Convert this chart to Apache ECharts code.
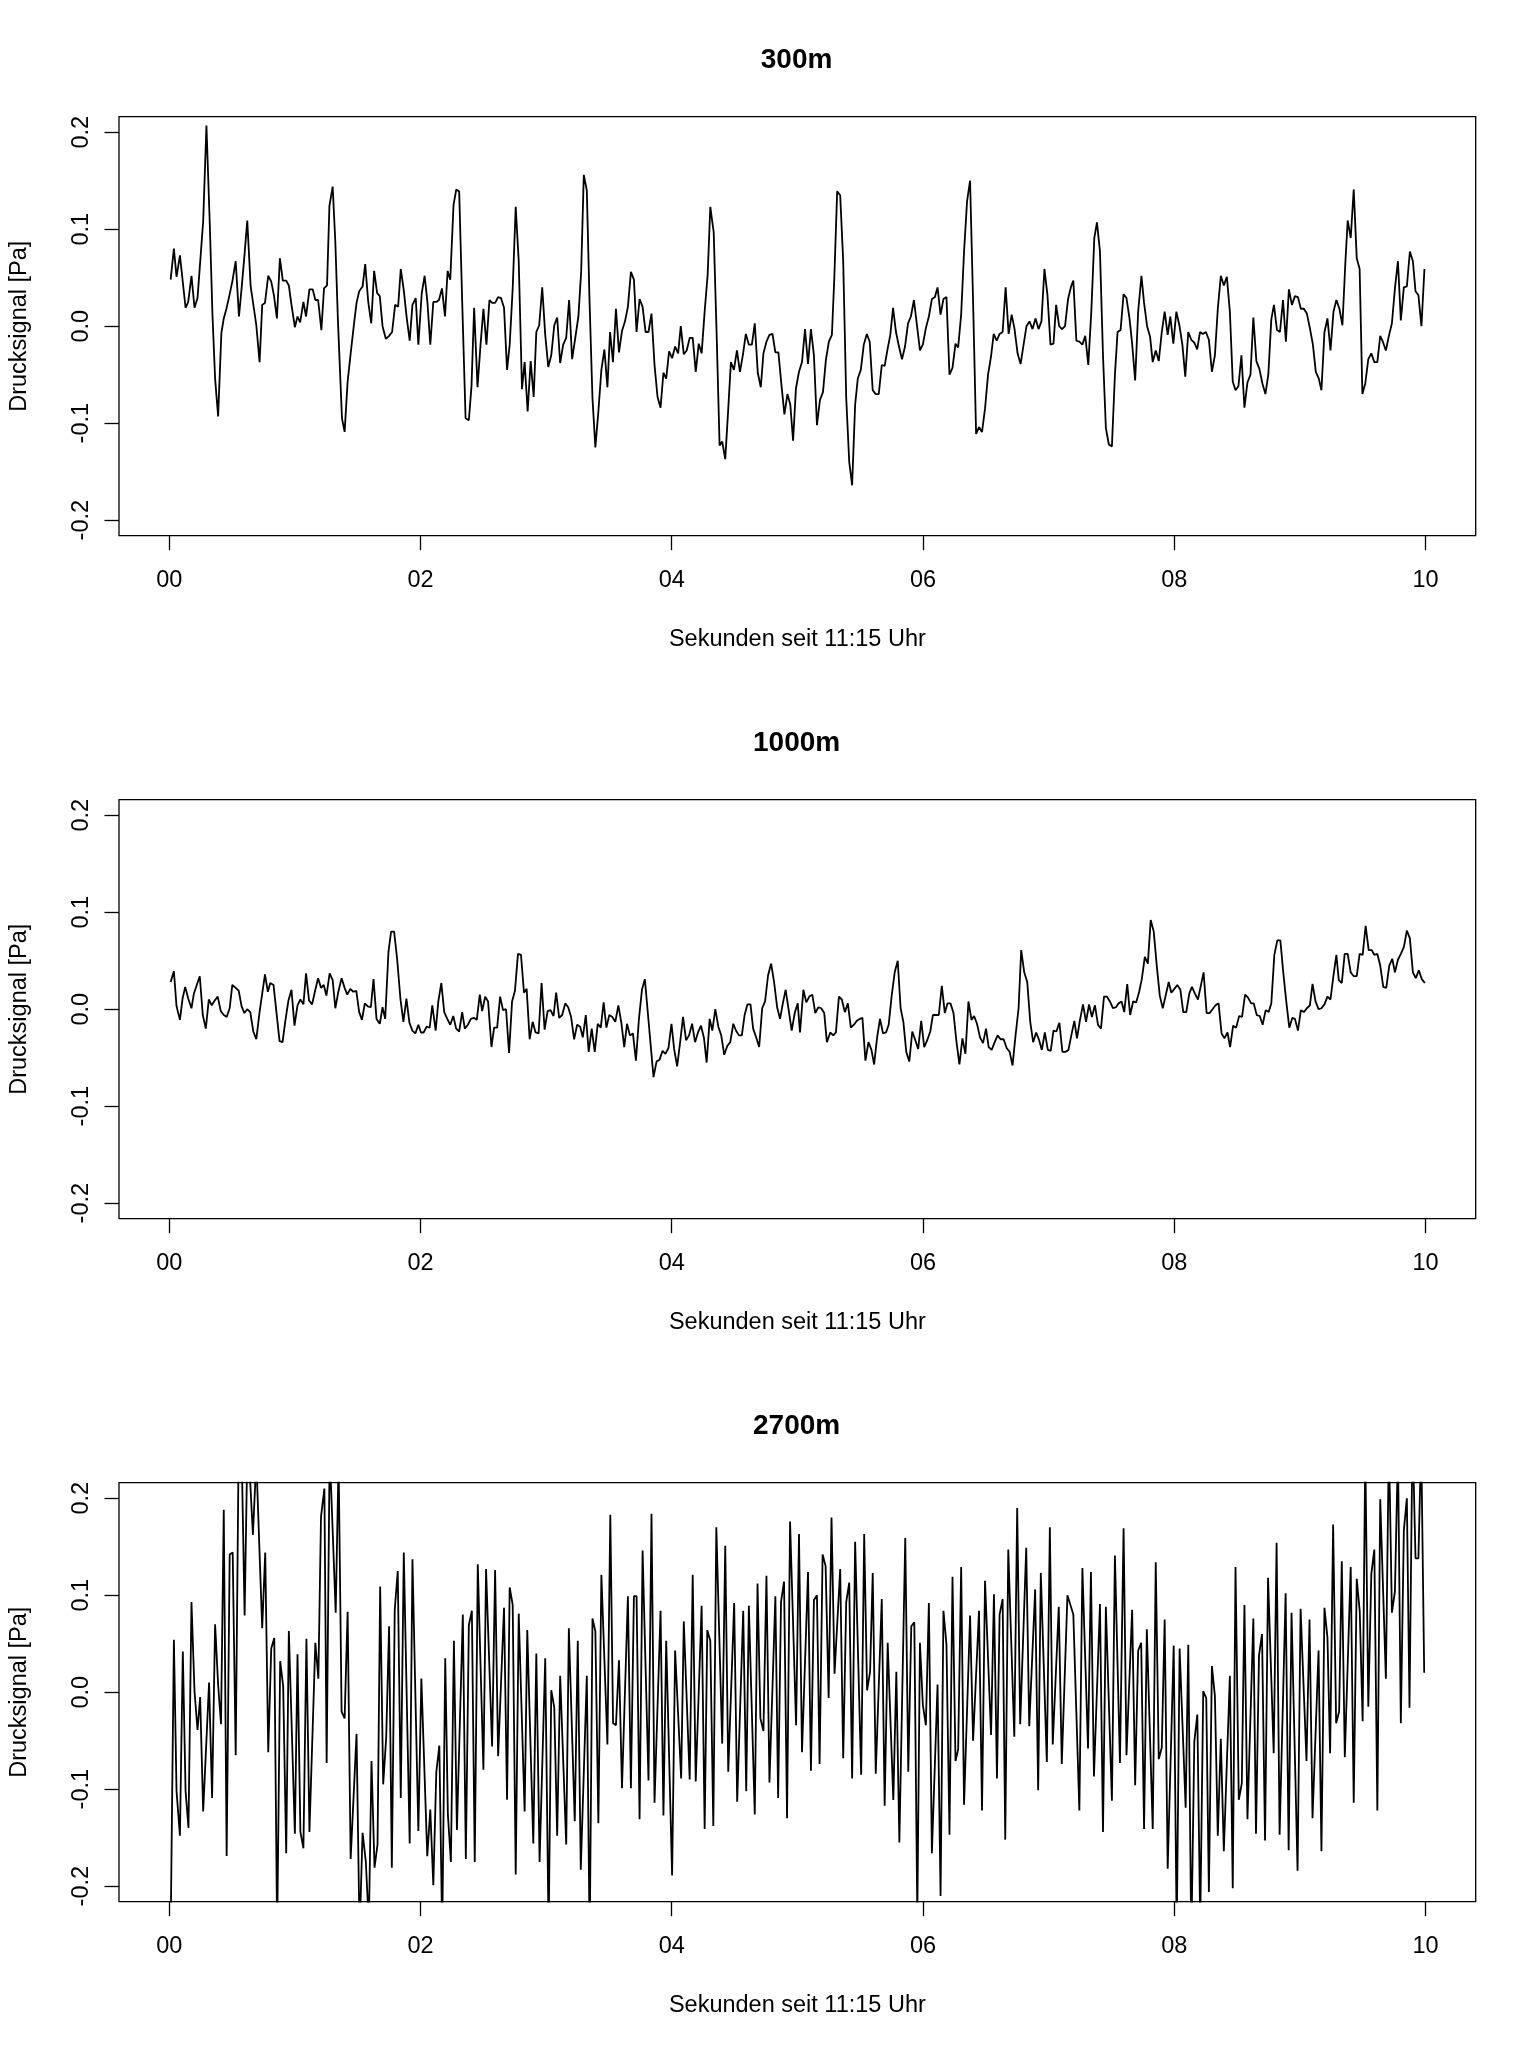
<!DOCTYPE html>
<html>
<head>
<meta charset="utf-8">
<script src="https://cdn.jsdelivr.net/npm/echarts@6.0.0/dist/echarts.min.js"></script>
<style>
html,body{margin:0;padding:0;background:#fff;}
#chart{width:1536px;height:2048px;}
</style>
</head>
<body>
<div id="chart"></div>
<script>
const panelTitles = ['300m', '1000m', '2700m'];
const xAxisTitle = 'Sekunden seit 11:15 Uhr';
const yAxisTitle = 'Drucksignal [Pa]';
const xTicks = [0, 2, 4, 6, 8, 10];
const xTickLabels = ['00', '02', '04', '06', '08', '10'];
const yTicks = [-0.2, -0.1, 0, 0.1, 0.2];
const yTickLabels = ['-0.2', '-0.1', '0.0', '0.1', '0.2'];

// [seconds, pressure signal in Pa]
const signal300 = [
[0.011,0.048],[0.037,0.080],[0.058,0.051],[0.085,0.073],[0.130,0.019],[0.151,0.025],[0.177,0.052],[0.201,0.019],[0.225,0.029],[0.270,0.108],
[0.296,0.207],[0.323,0.104],[0.344,0.012],[0.365,-0.054],[0.389,-0.093],[0.415,-0.007],[0.434,0.008],[0.455,0.018],[0.476,0.030],[0.502,0.046],
[0.529,0.067],[0.555,0.010],[0.576,0.039],[0.600,0.075],[0.621,0.109],[0.648,0.041],[0.674,0.018],[0.693,0.001],[0.719,-0.037],[0.740,0.022],
[0.762,0.024],[0.788,0.052],[0.812,0.046],[0.833,0.032],[0.857,0.008],[0.881,0.070],[0.904,0.047],[0.931,0.047],[0.952,0.042],[0.973,0.022],
[1.000,-0.001],[1.021,0.010],[1.042,0.004],[1.068,0.025],[1.089,0.010],[1.116,0.038],[1.142,0.038],[1.163,0.027],[1.185,0.027],[1.211,-0.004],
[1.232,0.039],[1.256,0.042],[1.275,0.124],[1.301,0.144],[1.322,0.087],[1.343,0.005],[1.375,-0.095],[1.396,-0.109],[1.420,-0.057],[1.446,-0.026],
[1.473,0.005],[1.491,0.024],[1.512,0.036],[1.539,0.041],[1.560,0.064],[1.584,0.025],[1.608,0.003],[1.631,0.057],[1.655,0.034],[1.676,0.031],
[1.698,0.000],[1.724,-0.013],[1.750,-0.010],[1.774,-0.006],[1.798,0.022],[1.822,0.020],[1.843,0.059],[1.867,0.037],[1.891,0.008],[1.914,-0.015],
[1.936,0.022],[1.962,0.029],[1.983,-0.019],[2.010,0.034],[2.033,0.052],[2.055,0.025],[2.078,-0.019],[2.102,0.025],[2.126,0.025],[2.147,0.027],
[2.171,0.039],[2.195,0.010],[2.216,0.057],[2.237,0.048],[2.263,0.125],[2.285,0.141],[2.308,0.139],[2.332,0.025],[2.359,-0.095],[2.385,-0.097],
[2.406,-0.062],[2.427,0.019],[2.454,-0.063],
[2.478,-0.019],[2.501,0.018],[2.525,-0.019],[2.549,0.027],[2.570,0.024],[2.594,0.024],[2.618,0.030],[2.641,0.029],[2.665,0.019],[2.689,-0.045],
[2.710,-0.019],[2.734,0.039],[2.758,0.123],[2.782,0.067],[2.808,-0.065],[2.829,-0.037],[2.853,-0.088],[2.877,-0.036],[2.901,-0.073],[2.922,-0.006],
[2.945,0.001],[2.969,0.040],[2.993,-0.009],[3.017,-0.042],[3.041,-0.030],[3.065,0.001],[3.088,0.009],[3.112,-0.038],[3.136,-0.019],[3.160,-0.012],
[3.183,0.027],[3.207,-0.034],[3.231,-0.013],[3.257,0.010],[3.279,0.056],[3.300,0.156],[3.324,0.140],[3.345,0.029],[3.369,-0.074],[3.392,-0.125],
[3.416,-0.088],[3.440,-0.045],[3.464,-0.024],[3.488,-0.063],[3.509,-0.006],[3.532,-0.037],[3.556,0.018],[3.580,-0.027],[3.604,-0.005],[3.628,0.005],
[3.651,0.020],[3.675,0.056],[3.699,0.048],[3.720,-0.006],[3.744,0.028],[3.768,0.020],[3.792,-0.006],[3.815,-0.006],[3.839,0.013],[3.863,-0.040],
[3.887,-0.073],[3.911,-0.084],[3.934,-0.048],[3.956,-0.054],[3.979,-0.026],[4.003,-0.033],[4.027,-0.021],[4.051,-0.028],[4.072,0.000],[4.096,-0.029],
[4.119,-0.025],[4.143,-0.012],[4.167,-0.012],[4.191,-0.047],[4.215,-0.018],[4.238,-0.028],[4.262,0.015],[4.286,0.053],[4.307,0.123],[4.334,0.097],
[4.357,-0.006],[4.381,-0.123],[4.402,-0.119],[4.426,-0.137],[4.450,-0.085],[4.471,-0.037],[4.495,-0.045],[4.519,-0.025],[4.543,-0.047],[4.566,-0.030],
[4.590,-0.008],[4.614,-0.019],[4.638,-0.019],[4.661,0.003],[4.685,-0.048],[4.709,-0.063],[4.730,-0.028],[4.754,-0.016],[4.778,-0.009],[4.802,-0.008],
[4.825,-0.027],[4.849,-0.027],[4.873,-0.060],[4.897,-0.091],[4.921,-0.070],[4.944,-0.081],[4.966,-0.118],[4.989,-0.064],
[5.013,-0.047],[5.037,-0.037],[5.061,-0.003],[5.085,-0.039],[5.108,-0.003],[5.132,-0.030],[5.156,-0.102],[5.180,-0.076],[5.204,-0.068],[5.227,-0.035],
[5.251,-0.016],[5.275,-0.009],[5.294,0.049],[5.317,0.139],[5.341,0.135],[5.365,0.067],[5.389,-0.074],[5.413,-0.140],[5.436,-0.164],[5.460,-0.081],
[5.481,-0.054],[5.505,-0.045],[5.529,-0.019],[5.553,-0.008],[5.576,-0.016],[5.600,-0.066],[5.624,-0.070],[5.648,-0.070],[5.672,-0.040],[5.695,-0.041],
[5.719,-0.023],[5.740,-0.009],[5.762,0.019],[5.785,-0.006],[5.809,-0.021],[5.833,-0.034],[5.857,-0.021],[5.881,0.003],[5.904,0.010],[5.928,0.027],
[5.952,0.001],[5.976,-0.025],[5.999,-0.019],[6.023,-0.002],[6.047,0.010],[6.071,0.028],[6.095,0.030],[6.116,0.040],[6.140,0.012],[6.163,0.028],
[6.187,0.030],[6.211,-0.050],[6.235,-0.043],[6.259,-0.018],[6.280,-0.022],[6.304,0.012],[6.327,0.077],[6.351,0.129],[6.375,0.150],[6.399,0.025],
[6.423,-0.111],[6.446,-0.104],[6.470,-0.109],[6.494,-0.085],[6.518,-0.050],[6.542,-0.031],[6.563,-0.008],[6.587,-0.015],[6.610,-0.008],[6.634,-0.006],
[6.658,0.040],[6.682,-0.008],[6.706,0.012],[6.729,-0.003],[6.753,-0.028],[6.777,-0.039],[6.801,-0.019],[6.824,0.000],[6.848,0.005],[6.872,-0.003],
[6.896,0.008],[6.920,-0.003],[6.943,0.005],[6.967,0.059],[6.991,0.032],[7.015,-0.019],[7.039,-0.018],[7.060,0.022],[7.084,0.000],[7.107,-0.003],
[7.131,0.000],[7.155,0.028],[7.179,0.041],[7.197,0.047],[7.221,-0.015],[7.245,-0.016],[7.269,-0.019],[7.292,-0.010],[7.316,-0.040],[7.340,0.015],
[7.364,0.091],[7.385,0.107],[7.409,0.077],[7.433,-0.030],[7.456,-0.105],[7.480,-0.122],[7.504,-0.124],
[7.528,-0.050],[7.549,-0.006],[7.573,-0.004],[7.597,0.033],[7.620,0.029],[7.644,0.008],[7.665,-0.018],[7.689,-0.056],[7.713,0.015],[7.739,0.052],
[7.760,0.024],[7.784,0.000],[7.808,-0.011],[7.829,-0.037],[7.853,-0.025],[7.877,-0.036],[7.901,-0.006],[7.924,0.015],[7.948,-0.009],[7.969,0.010],
[7.993,-0.018],[8.017,0.015],[8.041,0.001],[8.065,-0.019],[8.088,-0.052],[8.112,-0.006],[8.136,-0.014],[8.160,-0.017],[8.183,-0.024],[8.205,-0.006],
[8.228,-0.008],[8.252,-0.006],[8.276,-0.014],[8.300,-0.047],[8.324,-0.030],[8.347,0.018],[8.371,0.052],[8.395,0.042],[8.419,0.051],[8.443,0.015],
[8.466,-0.057],[8.488,-0.066],[8.511,-0.062],[8.535,-0.030],[8.559,-0.084],[8.583,-0.058],[8.607,-0.050],[8.630,0.009],[8.654,-0.036],[8.678,-0.044],
[8.702,-0.059],[8.726,-0.070],[8.749,-0.050],[8.773,0.007],[8.794,0.022],[8.818,-0.004],[8.842,-0.006],[8.866,0.027],[8.889,-0.016],[8.913,0.038],
[8.937,0.022],[8.961,0.031],[8.985,0.030],[9.008,0.018],[9.032,0.018],[9.056,0.013],[9.080,-0.002],[9.104,-0.019],[9.127,-0.047],[9.151,-0.054],
[9.172,-0.066],[9.196,-0.006],[9.220,0.008],[9.244,-0.025],[9.268,0.015],[9.291,0.027],[9.315,0.018],[9.339,0.001],[9.363,0.067],[9.381,0.109],
[9.405,0.091],[9.429,0.141],[9.453,0.070],[9.476,0.059],[9.498,-0.070],[9.521,-0.059],[9.545,-0.034],[9.569,-0.028],[9.593,-0.037],[9.617,-0.037],
[9.640,-0.010],[9.661,-0.016],[9.685,-0.025],[9.709,-0.010],[9.733,0.003],[9.757,0.039],[9.781,0.067],[9.804,0.006],[9.828,0.040],[9.852,0.041],
[9.876,0.077],[9.900,0.067],[9.921,0.036],[9.944,0.032],[9.968,0.000],[9.992,0.059]
];

const signal1000 = [
[0.011,0.028],[0.037,0.039],[0.058,0.003],[0.085,-0.011],[0.106,0.011],[0.127,0.023],[0.151,0.011],[0.177,0.001],[0.196,0.016],[0.219,0.025],
[0.243,0.034],[0.267,-0.006],[0.291,-0.020],[0.315,0.010],[0.338,0.004],[0.362,0.009],[0.386,0.013],[0.410,-0.002],[0.434,-0.006],[0.457,-0.008],
[0.481,0.001],[0.502,0.025],[0.529,0.022],[0.553,0.019],[0.576,0.003],[0.598,-0.004],[0.621,0.000],[0.645,-0.003],[0.669,-0.023],[0.693,-0.031],
[0.719,-0.003],[0.740,0.016],[0.762,0.036],[0.785,0.018],[0.804,0.027],[0.830,0.025],[0.854,-0.004],[0.878,-0.033],[0.902,-0.034],[0.923,-0.013],
[0.949,0.009],[0.973,0.020],[0.997,-0.017],[1.021,0.004],[1.044,0.010],[1.068,0.005],[1.089,0.037],[1.113,0.009],[1.137,0.005],[1.161,0.019],
[1.185,0.032],[1.208,0.022],[1.230,0.025],[1.251,0.014],[1.277,0.037],[1.301,0.030],[1.322,0.001],[1.346,0.018],[1.372,0.032],[1.396,0.022],
[1.417,0.015],[1.441,0.021],[1.465,0.018],[1.489,0.019],[1.512,-0.003],[1.534,-0.011],[1.557,0.006],[1.581,0.003],[1.605,0.002],[1.626,0.031],
[1.650,-0.010],[1.676,-0.015],[1.698,0.002],[1.719,-0.010],[1.745,0.059],[1.766,0.080],[1.790,0.080],[1.814,0.052],[1.840,0.011],[1.864,-0.013],
[1.888,0.011],[1.912,-0.014],[1.935,-0.022],[1.959,-0.025],[1.983,-0.016],[2.004,-0.024],[2.025,-0.024],[2.049,-0.018],[2.073,-0.019],[2.094,0.004],
[2.121,-0.022],[2.142,0.008],[2.166,0.027],[2.189,-0.003],[2.213,-0.010],[2.237,-0.016],[2.261,-0.007],[2.284,-0.020],[2.308,-0.023],[2.332,-0.003],
[2.353,-0.020],[2.377,-0.016],[2.401,-0.010],[2.427,-0.009],[2.448,-0.011],[2.472,0.015],
[2.491,-0.002],[2.515,0.013],[2.538,0.008],[2.565,-0.039],[2.586,-0.019],[2.610,-0.019],[2.634,0.013],[2.657,-0.001],[2.681,0.000],[2.705,-0.045],
[2.729,0.008],[2.752,0.019],[2.776,0.057],[2.800,0.056],[2.824,0.017],[2.845,0.021],[2.869,-0.031],[2.893,-0.013],[2.916,-0.024],[2.940,-0.025],
[2.964,0.027],[2.988,-0.021],[3.012,-0.002],[3.035,-0.001],[3.059,-0.007],[3.080,0.017],[3.104,-0.009],[3.128,-0.006],[3.152,0.006],[3.176,0.002],
[3.199,-0.008],[3.223,-0.031],[3.247,-0.016],[3.271,-0.018],[3.292,-0.029],[3.316,-0.006],[3.339,-0.044],[3.363,-0.020],[3.387,-0.044],[3.411,-0.015],
[3.435,-0.019],[3.458,0.007],[3.480,-0.019],[3.503,-0.006],[3.527,-0.008],[3.551,-0.013],[3.575,0.004],[3.599,-0.014],[3.622,-0.039],[3.644,-0.015],
[3.667,-0.027],[3.691,-0.025],[3.715,-0.053],[3.739,-0.010],[3.763,0.020],[3.786,0.031],[3.810,-0.004],[3.831,-0.035],[3.855,-0.070],[3.879,-0.054],
[3.903,-0.052],[3.927,-0.043],[3.950,-0.046],[3.974,-0.040],[3.998,-0.015],[4.019,-0.041],[4.043,-0.059],[4.067,-0.034],[4.090,-0.008],[4.114,-0.032],
[4.138,-0.027],[4.162,-0.015],[4.186,-0.034],[4.209,-0.024],[4.233,-0.017],[4.257,-0.030],[4.278,-0.055],[4.302,-0.010],[4.323,-0.022],[4.347,0.000],
[4.371,-0.018],[4.394,-0.027],[4.418,-0.047],[4.442,-0.038],[4.466,-0.034],[4.490,-0.015],[4.511,-0.022],[4.535,-0.027],[4.558,-0.027],[4.580,-0.006],
[4.603,0.005],[4.627,0.005],[4.648,-0.020],[4.672,-0.029],[4.696,-0.039],[4.720,0.001],[4.743,0.008],[4.767,0.035],[4.791,0.047],[4.815,0.028],
[4.839,0.002],[4.862,-0.010],[4.886,0.007],[4.907,0.020],[4.931,-0.001],[4.955,-0.022],[4.979,-0.004],[5.003,0.006],
[5.021,-0.024],[5.048,0.020],[5.071,0.007],[5.095,0.013],[5.119,0.015],[5.143,-0.004],[5.167,0.002],[5.190,0.001],[5.214,-0.004],[5.235,-0.034],
[5.262,-0.024],[5.286,-0.027],[5.307,-0.024],[5.331,0.013],[5.354,0.010],[5.378,-0.003],[5.402,0.006],[5.426,-0.019],[5.450,-0.016],[5.473,-0.012],
[5.497,-0.010],[5.518,-0.009],[5.542,-0.053],[5.566,-0.034],[5.590,-0.042],[5.611,-0.057],[5.635,-0.029],[5.658,-0.010],[5.682,-0.025],[5.706,-0.024],
[5.727,-0.016],[5.751,0.014],[5.775,0.038],[5.799,0.050],[5.822,0.001],[5.844,-0.013],[5.867,-0.044],[5.891,-0.054],[5.915,-0.023],[5.939,-0.032],
[5.962,-0.041],[5.986,-0.012],[6.010,-0.039],[6.034,-0.032],[6.058,-0.023],[6.079,-0.006],[6.103,-0.006],[6.126,-0.006],[6.150,0.024],[6.174,-0.004],
[6.195,0.006],[6.219,0.006],[6.243,-0.004],[6.267,-0.034],[6.290,-0.057],[6.314,-0.030],[6.338,-0.046],[6.362,0.008],[6.386,-0.011],[6.407,-0.007],
[6.430,-0.015],[6.454,-0.029],[6.478,-0.035],[6.502,-0.020],[6.523,-0.039],[6.547,-0.042],[6.571,-0.034],[6.594,-0.027],[6.618,-0.031],[6.642,-0.031],
[6.666,-0.040],[6.690,-0.044],[6.713,-0.058],[6.737,-0.027],[6.761,0.001],[6.782,0.061],[6.806,0.038],[6.830,0.028],[6.854,-0.013],[6.877,-0.034],
[6.901,-0.024],[6.925,-0.032],[6.946,-0.042],[6.970,-0.024],[6.994,-0.042],[7.017,-0.043],[7.039,-0.022],[7.062,-0.023],[7.086,-0.014],[7.110,-0.044],
[7.134,-0.044],[7.158,-0.042],[7.181,-0.027],[7.205,-0.012],[7.226,-0.030],[7.250,-0.011],[7.274,0.005],[7.298,-0.013],[7.322,0.005],[7.345,-0.008],
[7.369,0.004],[7.393,-0.016],[7.417,-0.020],[7.441,0.013],[7.464,0.013],[7.488,0.008],[7.512,0.001],[7.536,0.002],
[7.557,0.006],[7.581,0.008],[7.602,-0.003],[7.626,0.026],[7.649,-0.006],[7.673,0.008],[7.697,0.007],[7.721,0.018],[7.742,0.031],[7.766,0.054],
[7.790,0.047],[7.813,0.092],[7.837,0.080],[7.861,0.045],[7.885,0.014],[7.909,0.001],[7.932,0.014],[7.956,0.028],[7.977,0.017],[8.001,0.021],
[8.025,0.025],[8.049,0.020],[8.072,-0.003],[8.096,-0.003],[8.120,0.016],[8.141,0.023],[8.165,0.016],[8.189,0.010],[8.234,0.038],[8.258,-0.004],
[8.281,-0.004],[8.305,0.000],[8.329,0.004],[8.353,0.006],[8.377,-0.025],[8.400,-0.030],[8.424,-0.024],[8.445,-0.039],[8.469,-0.017],[8.493,-0.019],
[8.517,-0.007],[8.540,-0.008],[8.564,0.015],[8.588,0.012],[8.612,0.006],[8.633,0.006],[8.657,-0.006],[8.681,-0.007],[8.704,-0.016],[8.728,-0.001],
[8.752,-0.003],[8.773,0.006],[8.797,0.056],[8.821,0.071],[8.845,0.071],[8.868,0.038],[8.892,0.008],[8.916,-0.019],[8.940,-0.009],[8.961,-0.010],
[8.985,-0.022],[9.008,-0.001],[9.032,-0.003],[9.056,0.001],[9.080,0.004],[9.101,0.026],[9.125,0.008],[9.149,0.000],[9.172,0.001],[9.196,0.005],
[9.220,0.013],[9.244,0.010],[9.268,0.035],[9.291,0.056],[9.310,0.030],[9.334,0.027],[9.357,0.057],[9.381,0.057],[9.405,0.038],[9.429,0.034],
[9.453,0.034],[9.476,0.057],[9.500,0.056],[9.524,0.086],[9.548,0.061],[9.572,0.061],[9.593,0.056],[9.617,0.057],[9.640,0.045],[9.664,0.023],
[9.688,0.022],[9.712,0.045],[9.736,0.052],[9.757,0.038],[9.781,0.051],[9.804,0.057],[9.828,0.064],[9.852,0.081],[9.876,0.073],[9.900,0.038],
[9.923,0.032],[9.947,0.040],[9.971,0.031],[9.995,0.027]
];

const signal2700 = [
[0.011,-0.250],[0.037,0.054],[0.058,-0.102],[0.085,-0.148],[0.108,0.042],[0.130,-0.102],[0.153,-0.140],[0.177,0.093],[0.201,0.001],[0.225,-0.039],
[0.246,-0.005],[0.270,-0.123],[0.317,0.010],[0.341,-0.109],[0.365,0.070],[0.389,0.008],[0.412,-0.033],[0.434,0.188],[0.457,-0.169],[0.481,0.142],
[0.505,0.144],[0.529,-0.065],[0.553,0.260],[0.576,0.250],[0.600,0.079],[0.624,0.270],[0.666,0.162],[0.693,0.240],[0.740,0.066],[0.764,0.144],
[0.788,-0.062],[0.812,0.045],[0.836,0.056],[0.859,-0.250],[0.883,0.032],[0.907,0.006],[0.931,-0.166],[0.952,0.063],[0.976,-0.041],[1.000,-0.146],
[1.021,0.039],[1.044,-0.144],[1.068,-0.161],[1.092,0.055],[1.116,-0.144],[1.163,0.051],[1.187,0.014],[1.208,0.181],[1.235,0.210],[1.253,-0.073],
[1.277,0.250],[1.325,0.082],[1.348,0.240],[1.372,-0.020],[1.396,-0.027],[1.420,0.083],[1.444,-0.172],[1.491,-0.043],[1.515,-0.250],[1.539,-0.145],
[1.565,-0.175],[1.589,-0.240],[1.610,-0.071],[1.634,-0.181],[1.658,-0.157],[1.679,0.109],[1.703,-0.095],[1.727,-0.047],[1.750,0.068],[1.772,-0.181],
[1.795,0.085],[1.819,0.125],[1.843,-0.109],[1.867,0.144],[1.914,-0.156],[1.936,0.137],[1.983,-0.143],[2.007,0.014],[2.054,-0.169],[2.078,-0.121],
[2.102,-0.199],[2.126,-0.082],[2.150,-0.055],[2.173,-0.250],[2.197,0.035],[2.218,-0.126],[2.242,-0.175],[2.266,0.053],[2.290,-0.142],[2.337,0.080],
[2.361,-0.172],[2.385,0.069],[2.409,0.084],[2.432,-0.175],[2.456,0.132],
[2.501,-0.080],[2.522,0.127],[2.570,-0.056],[2.594,0.126],[2.618,-0.066],[2.665,0.087],[2.689,-0.111],[2.710,0.108],[2.734,0.090],[2.758,-0.188],
[2.782,0.081],[2.829,-0.123],[2.850,0.064],[2.898,-0.156],[2.922,0.040],[2.948,-0.175],[2.993,0.035],[3.020,-0.250],[3.041,0.002],[3.065,-0.016],
[3.088,-0.148],[3.112,0.017],[3.160,-0.157],[3.181,0.066],[3.228,-0.133],[3.252,0.053],[3.276,-0.183],[3.324,0.017],[3.347,-0.260],[3.369,0.076],
[3.392,0.063],[3.416,-0.135],[3.440,0.121],[3.488,-0.054],[3.511,0.183],[3.533,-0.032],[3.556,-0.034],[3.580,0.033],[3.604,-0.099],[3.651,0.099],
[3.675,-0.099],[3.699,0.099],[3.720,0.099],[3.744,-0.131],[3.768,0.146],[3.815,-0.091],[3.839,0.184],[3.863,-0.114],[3.911,0.084],[3.934,-0.127],
[3.956,0.053],[4.003,-0.189],[4.027,0.043],[4.075,-0.089],[4.096,0.073],[4.143,-0.090],[4.167,0.121],[4.191,-0.092],[4.238,0.089],[4.262,-0.141],
[4.283,0.064],[4.307,0.053],[4.331,-0.138],[4.355,0.170],[4.402,-0.053],[4.426,0.151],[4.450,-0.082],[4.497,0.092],[4.521,-0.113],[4.569,0.084],
[4.593,-0.102],[4.614,0.089],[4.661,-0.126],[4.683,0.112],[4.706,-0.027],[4.730,-0.040],[4.754,0.120],[4.778,-0.093],[4.825,0.099],[4.847,-0.109],
[4.870,0.093],[4.894,0.114],[4.918,-0.130],[4.942,0.176],
[4.990,-0.034],[5.013,0.163],[5.037,-0.062],[5.085,0.124],[5.108,-0.081],[5.132,0.095],[5.156,0.100],[5.177,-0.074],[5.201,0.142],[5.225,0.130],
[5.249,-0.006],[5.272,0.180],[5.296,0.019],[5.341,0.127],[5.365,-0.068],[5.389,0.093],[5.413,0.113],[5.436,-0.089],[5.460,0.155],[5.508,-0.085],
[5.532,0.163],[5.555,0.002],[5.579,0.021],[5.600,0.123],[5.624,-0.084],[5.672,0.096],[5.695,-0.117],[5.719,0.051],[5.764,-0.111],[5.788,0.021],
[5.812,-0.155],[5.859,0.159],[5.883,-0.082],[5.907,0.068],[5.931,0.072],[5.955,-0.230],[5.976,0.051],[5.999,-0.013],[6.023,-0.034],[6.047,0.092],
[6.071,-0.166],[6.116,0.008],[6.140,-0.210],[6.163,0.084],[6.187,0.049],[6.211,-0.147],[6.235,0.119],[6.259,-0.071],[6.280,-0.059],[6.304,0.129],
[6.327,-0.116],[6.375,0.079],[6.399,-0.050],[6.446,0.084],[6.470,-0.122],[6.494,0.115],[6.542,-0.044],[6.565,0.101],[6.589,-0.089],[6.610,0.080],
[6.634,0.096],[6.655,-0.152],[6.679,0.147],[6.727,-0.046],[6.750,0.190],[6.774,-0.033],[6.822,0.149],[6.846,-0.035],[6.893,0.106],[6.917,-0.101],
[6.938,0.123],[6.986,-0.072],[7.010,0.170],[7.033,-0.054],[7.081,0.088],[7.105,-0.074],[7.150,0.100],[7.197,0.080],[7.245,-0.122],[7.269,0.128],
[7.314,-0.058],[7.337,0.124],[7.361,-0.087],[7.409,0.091],[7.433,-0.144],[7.456,0.088],[7.504,-0.112],[7.528,0.141],[7.568,-0.073],
[7.597,0.169],[7.620,-0.065],[7.665,0.085],[7.689,-0.096],[7.713,0.043],[7.737,0.051],[7.760,-0.141],[7.782,0.065],[7.829,-0.141],[7.853,0.134],
[7.877,-0.069],[7.901,-0.057],[7.924,0.075],[7.948,-0.182],[7.996,0.048],[8.020,-0.250],[8.043,0.045],[8.091,-0.119],[8.112,0.049],[8.136,-0.260],
[8.160,-0.051],[8.184,-0.023],[8.207,-0.240],[8.231,0.001],[8.255,-0.006],[8.276,-0.206],[8.300,0.027],[8.324,-0.004],[8.347,-0.148],[8.371,-0.048],
[8.395,-0.164],[8.443,0.017],[8.466,-0.202],[8.488,0.129],[8.514,-0.111],[8.538,-0.094],[8.559,0.090],[8.583,-0.131],[8.630,0.076],[8.651,-0.146],
[8.675,0.038],[8.699,0.060],[8.723,-0.153],[8.747,0.118],[8.792,-0.063],[8.815,0.154],[8.839,-0.147],[8.887,0.102],[8.911,-0.163],[8.934,0.082],
[8.982,-0.184],[9.006,0.086],[9.053,-0.071],[9.077,0.075],[9.101,-0.130],[9.149,0.043],[9.172,-0.164],[9.196,0.087],[9.220,0.056],[9.241,-0.063],
[9.265,0.173],[9.289,-0.032],[9.313,-0.020],[9.334,0.135],[9.358,-0.067],[9.405,0.129],[9.429,-0.114],[9.453,0.117],[9.477,0.083],[9.500,-0.030],
[9.521,0.250],[9.545,-0.015],[9.569,0.122],[9.593,0.147],[9.617,-0.122],[9.640,0.199],[9.685,0.014],[9.709,0.260],[9.733,0.082],[9.757,0.104],
[9.781,0.250],[9.804,-0.032],[9.828,0.167],[9.852,0.200],[9.873,-0.016],[9.897,0.270],[9.921,0.138],[9.944,0.138],[9.966,0.260],[9.990,0.020]
];

const signals = [signal300, signal1000, signal2700];

const FONT = '"Liberation Sans", Arial, Helvetica, sans-serif';
const gridTops = [116.7, 799.7, 1482.7];
const gridLeft = 117.5, gridWidth = 1358.2, gridHeight = 419;

const chart = echarts.init(document.getElementById('chart'), null, {renderer: 'canvas'});

const option = {
  backgroundColor: '#ffffff',
  animation: false,
  title: panelTitles.map((text, i) => ({
    text: text,
    left: gridLeft + gridWidth / 2,
    top: gridTops[i] - 70,
    textAlign: 'center',
    padding: 0,
    textStyle: {fontFamily: FONT, fontWeight: 'bold', fontSize: 28, color: '#000'}
  })),
  grid: gridTops.map(top => ({
    left: gridLeft, top: top, width: gridWidth, height: gridHeight,
    show: true, borderColor: '#000', borderWidth: 1.3, backgroundColor: 'transparent',
    containLabel: false
  })),
  xAxis: gridTops.map((_, i) => ({
    type: 'value', gridIndex: i, min: -0.4, max: 10.4, position: 'bottom',
    axisLine: {show: false, onZero: false},
    splitLine: {show: false},
    axisTick: {show: true, customValues: xTicks, length: 14.5, lineStyle: {color: '#000', width: 1.3}},
    axisLabel: {
      customValues: xTicks, margin: 33, fontSize: 23.5, color: '#000', fontFamily: FONT,
      formatter: v => xTickLabels[xTicks.indexOf(v)]
    },
    name: xAxisTitle, nameLocation: 'middle', nameGap: 92,
    nameTextStyle: {fontSize: 23.5, color: '#000', fontFamily: FONT}
  })),
  yAxis: gridTops.map((_, i) => ({
    type: 'value', gridIndex: i, min: -0.216, max: 0.216, position: 'left',
    axisLine: {show: false, onZero: false},
    splitLine: {show: false},
    axisTick: {show: true, customValues: yTicks, length: 14.5, lineStyle: {color: '#000', width: 1.3}},
    axisLabel: {
      customValues: yTicks, rotate: 90, margin: 25, fontSize: 23.5, color: '#000', fontFamily: FONT,
      formatter: v => yTickLabels[yTicks.indexOf(v)]
    },
    name: yAxisTitle, nameLocation: 'middle', nameRotate: 90, nameGap: 87,
    nameTextStyle: {fontSize: 23.5, color: '#000', fontFamily: FONT}
  })),
  series: signals.map((sig, i) => ({
    type: 'line', xAxisIndex: i, yAxisIndex: i,
    data: sig, showSymbol: false, symbol: 'none', clip: true,
    lineStyle: {color: '#000', width: 1.8},
    silent: true
  }))
};

chart.setOption(option);
</script>
</body>
</html>
